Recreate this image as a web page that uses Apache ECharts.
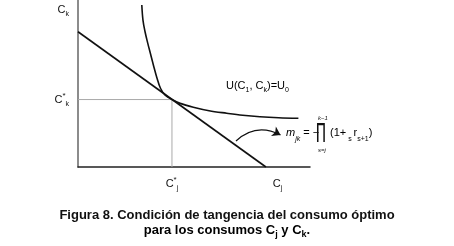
<!DOCTYPE html>
<html><head><meta charset="utf-8">
<script src="https://cdn.jsdelivr.net/npm/echarts@6/dist/echarts.min.js"></script>
<style>html,body{margin:0;padding:0;background:#fff}#c{width:454px;height:246px}</style>
</head><body><div id="c"></div>
<script>
// Data (arbitrary units: x 0..100, y 0..100)
var budgetLine = [[0, 81], [81, 0]];
var optimum = [40.5, 40.4];
var indiffX = [27.5, 28.0, 28.9, 30.0, 31.3, 32.6, 34.0, 35.6, 37.6, 40.5, 44.0, 49.7, 56.5, 64.1, 71.0, 78.4, 86.5, 95.0];
var indiffY = [97.0, 88.0, 81.0, 74.5, 67.5, 60.5, 53.5, 47.0, 43.0, 40.4, 38.1, 35.8, 33.7, 32.2, 31.0, 30.1, 29.5, 29.2];
var arrowFrom = [68.1, 15.6];
var arrowTo = [87.3, 19.2];
var xTickValues = [40.5, 86];
var yTickValues = [40.4, 94];
var xTickLabels = ['{c|C}{sup|*}{sub|j}', '{c|C}{sub|j}'];
var yTickLabels = ['{c|C}{sup|*}{sub|k}', '{c|C}{sub|k}'];

var FONT = '"Liberation Sans", Arial, sans-serif';
var rich = {
  c: {fontSize: 11, fontFamily: FONT, color: '#111', lineHeight: 16, verticalAlign: 'middle'},
  sup: {fontSize: 8, fontFamily: FONT, color: '#111', lineHeight: 16, verticalAlign: 'top'},
  sub: {fontSize: 7, fontFamily: FONT, color: '#111', lineHeight: 16, verticalAlign: 'bottom'}
};
var indiff = indiffX.map(function (x, i) { return [x, indiffY[i]]; });

var chart = echarts.init(document.getElementById('c'), null, {renderer: 'canvas'});
chart.setOption({
  animation: false,
  grid: {left: 78, right: 144, top: 0, bottom: 79, containLabel: false},
  xAxis: {
    type: 'value', min: 0, max: 100,
    axisLine: {show: true, onZero: false, lineStyle: {color: '#222', width: 1.5}},
    axisTick: {show: false},
    splitLine: {show: false},
    axisLabel: {
      show: true, customValues: xTickValues, margin: 9,
      formatter: function (v) { return xTickLabels[xTickValues.indexOf(v)]; },
      rich: rich
    }
  },
  yAxis: {
    type: 'value', min: 0, max: 100,
    axisLine: {show: true, onZero: false, lineStyle: {color: '#666', width: 1.5}},
    axisTick: {show: false},
    splitLine: {show: false},
    axisLabel: {
      show: true, customValues: yTickValues, margin: 9,
      formatter: function (v) { return yTickLabels[yTickValues.indexOf(v)]; },
      rich: rich
    }
  },
  series: [
    {
      type: 'line', data: [[optimum[0], 0], optimum, [0, optimum[1]]],
      symbol: 'none', lineStyle: {color: '#aaa', width: 1}, z: 1
    },
    {
      type: 'line', data: budgetLine, symbol: 'none',
      lineStyle: {color: '#111', width: 1.6}, z: 3
    },
    {
      type: 'line', data: indiff, symbol: 'none', smooth: 0.35,
      lineStyle: {color: '#111', width: 1.6}, z: 3
    },
    {
      type: 'lines', coordinateSystem: 'cartesian2d',
      data: [{coords: [arrowFrom, arrowTo]}],
      symbol: ['none', 'arrow'], symbolSize: [0, 8],
      lineStyle: {color: '#111', width: 1.2, opacity: 1, curveness: 0.35}, z: 4
    }
  ],
  graphic: [
    {
      type: 'text', left: 226, top: 80,
      style: {
        text: '{c|U(C}{sub|1}{c|, C}{sub|k}{c|)=U}{sub|0}',
        rich: rich
      }
    },
    {
      type: 'text', left: 286, top: 127,
      style: {
        text: '{m|m}{ms|jk}{c| = −}',
        rich: {
          m: {fontSize: 11, fontFamily: FONT, fontStyle: 'italic', color: '#111', lineHeight: 20, verticalAlign: 'middle'},
          ms: {fontSize: 7, fontFamily: FONT, fontStyle: 'italic', color: '#111', lineHeight: 20, verticalAlign: 'bottom'},
          c: {fontSize: 11, fontFamily: FONT, color: '#111', lineHeight: 20, verticalAlign: 'middle'}
        }
      }
    },
    {
      type: 'text', x: 316, y: 122, scaleY: 1.6,
      style: {text: '∏', font: '13px "DejaVu Sans", ' + FONT, fill: '#111'}
    },
    {
      type: 'text', left: 318, top: 115,
      style: {text: 'k−1', font: 'italic 6px ' + FONT, fill: '#111'}
    },
    {
      type: 'text', left: 318, top: 147,
      style: {text: 's=j', font: 'italic 6px ' + FONT, fill: '#111'}
    },
    {
      type: 'text', left: 330, top: 127,
      style: {
        text: '{c|(1+}{sub| s }{c|r}{sub|s+1}{c|)}',
        rich: {
          c: {fontSize: 11, fontFamily: FONT, color: '#111', lineHeight: 20, verticalAlign: 'middle'},
          sub: {fontSize: 7, fontFamily: FONT, color: '#111', lineHeight: 20, verticalAlign: 'bottom'}
        }
      }
    },
    {
      type: 'text', left: 'center', top: 209,
      style: {
        text: 'Figura 8. Condición de tangencia del consumo óptimo',
        font: 'bold 13px ' + FONT, fill: '#111'
      }
    },
    {
      type: 'text', left: 'center', top: 224,
      style: {
        text: '{b|para los consumos C}{s|j}{b| y C}{s|k}{b|.}',
        rich: {
          b: {fontSize: 13, fontWeight: 'bold', fontFamily: FONT, color: '#111', lineHeight: 17, verticalAlign: 'middle'},
          s: {fontSize: 9, fontWeight: 'bold', fontFamily: FONT, color: '#111', lineHeight: 17, verticalAlign: 'bottom'}
        }
      }
    }
  ]
});
</script></body></html>
